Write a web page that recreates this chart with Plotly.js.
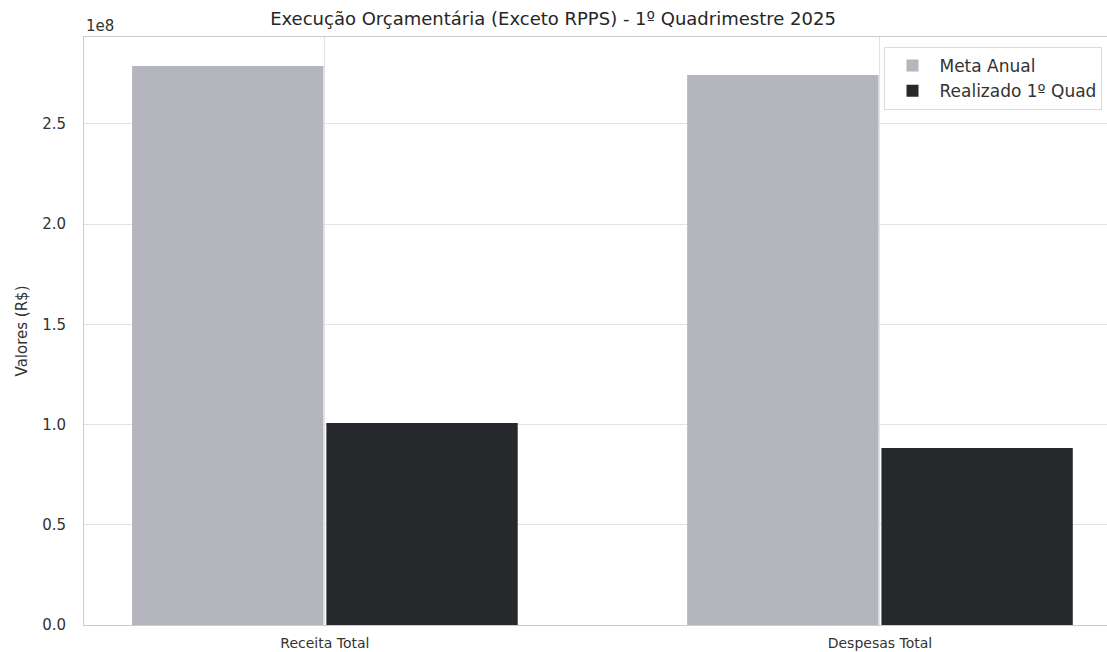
<!DOCTYPE html>
<html>
<head>
<meta charset="utf-8">
<script src="https://cdn.plot.ly/plotly-3.0.1.min.js"></script>
<style>html,body{margin:0;padding:0;background:#fff}#chart{width:1107px;height:652px}</style>
</head>
<body>
<div id="chart"></div>
<script>
const categories = ['Receita Total', 'Despesas Total'];
const metaAnual = [278900000, 274400000];
const realizado1Quad = [100800000, 88300000];
const seriesNames = ['Meta Anual', 'Realizado 1º Quad'];
const yTickVals = [0, 50000000, 100000000, 150000000, 200000000, 250000000];
const yTickText = ['0.0', '0.5', '1.0', '1.5', '2.0', '2.5'];

const font = 'DejaVu Sans, sans-serif';
const traces = [
  {type: 'bar', name: seriesNames[0], x: categories, y: metaAnual,
   marker: {color: '#b5b5bd', line: {width: 0}}},
  {type: 'bar', name: seriesNames[1], x: categories, y: realizado1Quad,
   marker: {color: '#27282c', line: {width: 0}}}
];
const layout = {
  width: 1107, height: 652,
  margin: {l: 84, r: 0, t: 37, b: 27},
  paper_bgcolor: '#ffffff', plot_bgcolor: '#ffffff',
  font: {family: font, size: 14, color: '#3a3a3a'},
  barmode: 'group', bargap: 0.3, bargroupgap: 0.015,
  showlegend: true,
  legend: {x: 0.7825, y: 0.983, xanchor: 'left', yanchor: 'top', itemwidth: 44,
           bgcolor: 'rgba(255,255,255,0.9)', bordercolor: '#dcdcdc', borderwidth: 1,
           font: {family: font, size: 17, color: '#333'}, tracegroupgap: 2},
  title: {text: 'Execução Orçamentária (Exceto RPPS) - 1º Quadrimestre 2025',
          x: 553 / 1107, xref: 'container', xanchor: 'center', y: 0.972, yanchor: 'middle',
          font: {family: font, size: 18, color: '#262626'}},
  xaxis: {type: 'category', range: [-0.434, 1.409], showgrid: true, gridcolor: '#e3e3e3',
          ticks: '', showline: true, linecolor: '#cccccc', mirror: true, zeroline: false,
          tickfont: {family: font, size: 14, color: '#333'}, ticklabelstandoff: 5},
  yaxis: {range: [0, 293400000], tickvals: yTickVals, ticktext: yTickText,
          showgrid: true, gridcolor: '#e3e3e3', ticks: '', zeroline: false,
          showline: true, linecolor: '#cccccc', mirror: true,
          tickfont: {family: font, size: 15, color: '#333'}, ticklabelstandoff: 14,
          title: {text: 'Valores (R$)', font: {family: font, size: 15, color: '#333'}, standoff: 10}},
  annotations: [{text: '1e8', xref: 'paper', yref: 'paper', x: 0, y: 1, xanchor: 'left', yanchor: 'bottom',
                 showarrow: false, yshift: 0, font: {family: font, size: 15, color: '#333'}}]
};
Plotly.newPlot('chart', traces, layout, {displayModeBar: false, staticPlot: true});
</script>
</body>
</html>
